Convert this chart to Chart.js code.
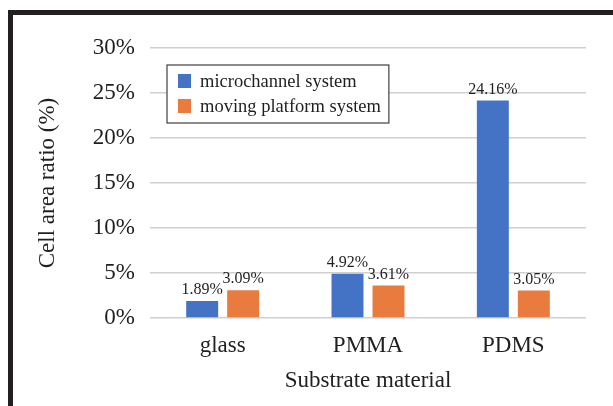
<!DOCTYPE html>
<html>
<head>
<meta charset="utf-8">
<script src="https://cdn.jsdelivr.net/npm/chart.js@4/dist/chart.umd.min.js"></script>
<style>
    html, body { margin: 0; padding: 0; background: #fff; }
    canvas { display: block; }
</style>
</head>
<body>
<canvas id="cell-area-chart" width="613" height="406"></canvas>
<script>
/*data*/
let materials = ['glass', 'PMMA', 'PDMS'];
let microchannelValues = [1.89, 4.92, 24.16];
let movingPlatformValues = [3.09, 3.61, 3.05];
let seriesNames = ['microchannel system', 'moving platform system'];
let yTicks = [0, 5, 10, 15, 20, 25, 30];
/**/

const serif = "'Liberation Serif', 'Times New Roman', serif";
const textColor = '#1f1f1f';

// thick black frame on the top and left edges
const framePlugin = {
    id: 'frame',
    beforeDraw(chart) {
        const ctx = chart.ctx;
        ctx.save();
        ctx.fillStyle = '#231f20';
        ctx.fillRect(8, 10, chart.width - 8, 5);
        ctx.fillRect(8, 10, 5, chart.height - 10);
        ctx.restore();
    }
};

// value above every bar
const valueLabelsPlugin = {
    id: 'valueLabels',
    afterDatasetsDraw(chart) {
        const ctx = chart.ctx;
        ctx.save();
        ctx.font = '16px ' + serif;
        ctx.fillStyle = textColor;
        ctx.textAlign = 'center';
        ctx.textBaseline = 'alphabetic';
        chart.data.datasets.forEach((ds, i) => {
            chart.getDatasetMeta(i).data.forEach((bar, j) => {
                ctx.fillText(ds.data[j].toFixed(2) + '%', bar.x, bar.y - 7);
            });
        });
        ctx.restore();
    }
};

// boxed legend inside the plot area
const boxLegendPlugin = {
    id: 'boxLegend',
    afterDraw(chart) {
        const ctx = chart.ctx;
        const area = chart.chartArea;
        const left = area.left + 17;
        const top = area.top + 17;
        ctx.save();
        ctx.font = '18.5px ' + serif;
        let maxText = 0;
        chart.data.datasets.forEach(ds => {
            maxText = Math.max(maxText, ctx.measureText(ds.label).width);
        });
        const width = 11 + 13 + 9 + maxText + 8;
        const height = 58;
        ctx.fillStyle = '#fff';
        ctx.fillRect(left, top, width, height);
        ctx.strokeStyle = '#404040';
        ctx.lineWidth = 1.2;
        ctx.strokeRect(left, top, width, height);
        ctx.textBaseline = 'middle';
        ctx.textAlign = 'left';
        chart.data.datasets.forEach((ds, i) => {
            const cy = top + 16 + i * 25;
            ctx.fillStyle = ds.backgroundColor;
            ctx.fillRect(left + 11, cy - 7, 13, 14);
            ctx.fillStyle = textColor;
            ctx.fillText(ds.label, left + 33, cy + 1);
        });
        ctx.restore();
    }
};

let cellAreaChart = {
    type: 'bar',
    data: {
        labels: materials,
        datasets: [{
            label: seriesNames[0],
            data: microchannelValues,
            backgroundColor: '#4472c4',
            categoryPercentage: 0.564,
            barPercentage: 0.78
        }, {
            label: seriesNames[1],
            data: movingPlatformValues,
            backgroundColor: '#e97b3f',
            categoryPercentage: 0.564,
            barPercentage: 0.78
        }]
    },
    options: {
        responsive: false,
        animation: false,
        layout: {
            padding: { top: 48, right: 27, left: 0, bottom: 0 }
        },
        plugins: {
            legend: { display: false },
            tooltip: { enabled: false }
        },
        scales: {
            x: {
                grid: { display: false },
                border: { display: false },
                ticks: {
                    color: textColor,
                    font: { family: serif, size: 23 },
                    padding: 6
                },
                title: {
                    display: true,
                    text: 'Substrate material',
                    color: textColor,
                    font: { family: serif, size: 23 },
                    padding: { top: 0, bottom: 11 }
                },
                afterFit(scale) { scale.height = 88; }
            },
            y: {
                min: yTicks[0],
                max: yTicks[yTicks.length - 1],
                afterBuildTicks(scale) {
                    scale.ticks = yTicks.map(v => ({ value: v }));
                },
                grid: {
                    color: '#d0d0d0',
                    lineWidth: 1.5,
                    drawTicks: false
                },
                border: { display: false },
                ticks: {
                    color: textColor,
                    font: { family: serif, size: 23 },
                    padding: 15,
                    callback: v => v + '%'
                },
                title: {
                    display: true,
                    text: 'Cell area ratio (%)',
                    color: textColor,
                    font: { family: serif, size: 23 },
                    padding: { top: 34, bottom: 0 }
                },
                afterFit(scale) { scale.width = 150; }
            }
        }
    },
    plugins: [framePlugin, valueLabelsPlugin, boxLegendPlugin]
};

window.onload = function() {
    new Chart(document.getElementById('cell-area-chart'), cellAreaChart);
};
</script>
</body>
</html>
